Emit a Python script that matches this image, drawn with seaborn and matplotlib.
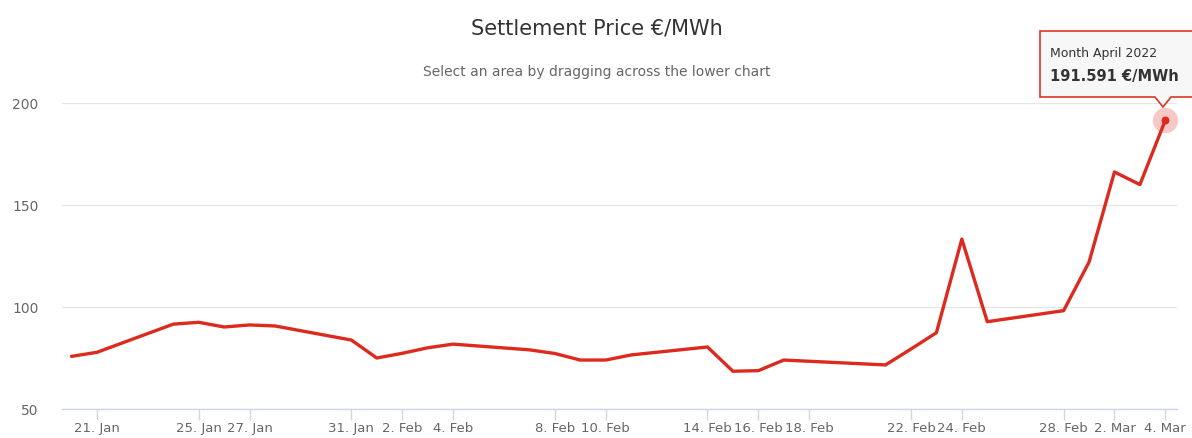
import pandas as pd
import numpy as np
import matplotlib
matplotlib.use("Agg")
import matplotlib.pyplot as plt
import matplotlib.dates as mdates
from matplotlib.patches import Polygon
import seaborn as sns

# trading days and settlement prices
dates = ["2022-01-20", "2022-01-21", "2022-01-24", "2022-01-25", "2022-01-26",
         "2022-01-27", "2022-01-28", "2022-01-31", "2022-02-01", "2022-02-02",
         "2022-02-03", "2022-02-04", "2022-02-07", "2022-02-08", "2022-02-09",
         "2022-02-10", "2022-02-11", "2022-02-14", "2022-02-15", "2022-02-16",
         "2022-02-17", "2022-02-18", "2022-02-21", "2022-02-22", "2022-02-23",
         "2022-02-24", "2022-02-25", "2022-02-28", "2022-03-01", "2022-03-02",
         "2022-03-03", "2022-03-04"]
prices = [75.8, 77.8, 91.6, 92.5, 90.2, 91.2, 90.7, 83.8, 75.0, 77.3,
          80.0, 81.8, 79.0, 77.2, 74.0, 74.0, 76.5, 80.4, 68.5, 68.8,
          74.0, 73.4, 71.6, 79.4, 87.4, 133.3, 92.8, 98.2, 122.0, 166.2,
          160.0, 191.591]
tick_dates = ["2022-01-21", "2022-01-25", "2022-01-27", "2022-01-31", "2022-02-02",
              "2022-02-04", "2022-02-08", "2022-02-10", "2022-02-14", "2022-02-16",
              "2022-02-18", "2022-02-22", "2022-02-24", "2022-02-28", "2022-03-02",
              "2022-03-04"]
tick_labels = ["21. Jan", "25. Jan", "27. Jan", "31. Jan", "2. Feb", "4. Feb",
               "8. Feb", "10. Feb", "14. Feb", "16. Feb", "18. Feb", "22. Feb",
               "24. Feb", "28. Feb", "2. Mar", "4. Mar"]
y_ticks = [50, 100, 150, 200]

df = pd.DataFrame({"Date": pd.to_datetime(dates), "Price": prices})

sns.set_style("white")
plt.rcParams["font.family"] = ["DejaVu Sans"]

W, H = 1192, 439
fig = plt.figure(figsize=(W / 100, H / 100), dpi=100)
ax = fig.add_axes([62 / W, 1 - 410 / H, (1177 - 62) / W, (410 - 104) / H])

red = "#dc2a1e"
sns.lineplot(data=df, x="Date", y="Price", ax=ax, color=red, linewidth=2.4,
             clip_on=False, zorder=3)

# hovered point with halo
last = df.iloc[-1]
ax.scatter([last["Date"]], [last["Price"]], s=330, color=red, alpha=0.25,
           linewidths=0, clip_on=False, zorder=4)
ax.scatter([last["Date"]], [last["Price"]], s=22, color=red, clip_on=False, zorder=5)

ax.set_xlim(pd.Timestamp("2022-01-19 15:00"), pd.Timestamp("2022-03-04 11:00"))
ax.set_ylim(50, 200)
ax.set_yticks(y_ticks)
ax.set_xticks(pd.to_datetime(tick_dates))
ax.set_xticklabels(tick_labels)
ax.set_xlabel("")
ax.set_ylabel("")

ax.grid(axis="y", color="#e6e6e6", linewidth=1)
ax.set_axisbelow(True)
for s in ["top", "right", "left"]:
    ax.spines[s].set_visible(False)
ax.spines["bottom"].set_color("#ccd6eb")
ax.spines["bottom"].set_linewidth(1)
ax.tick_params(axis="x", length=8, width=1, color="#ccd6eb", colors="#666666",
               labelsize=9.5, pad=1, bottom=True)
ax.tick_params(axis="y", length=0, colors="#666666", labelsize=10, pad=17)
for lab in ax.get_xticklabels():
    lab.set_color("#666666")

fig.text(597 / W, 1 - 28 / H, "Settlement Price €/MWh", ha="center", va="center",
         fontsize=15, color="#333333")
fig.text(597 / W, 1 - 72 / H, "Select an area by dragging across the lower chart",
         ha="center", va="center", fontsize=10, color="#666666")

# tooltip
def fp(x, y):
    return (x / W, 1 - y / H)

box = [fp(1040, 32), fp(1195, 32), fp(1195, 98), fp(1171, 98), fp(1163, 108),
       fp(1155, 98), fp(1040, 98)]
fig.patches.append(Polygon(box, closed=True, transform=fig.transFigure,
                           facecolor="#f7f7f7", edgecolor=red, linewidth=1.2,
                           alpha=0.95, zorder=10))
fig.text(1050 / W, 1 - 54 / H, "Month April 2022", ha="left", va="center",
         fontsize=9, color="#333333", zorder=11)
fig.text(1050 / W, 1 - 76 / H, "191.591 €/MWh", ha="left", va="center",
         fontsize=10.5, fontweight="bold", color="#333333", zorder=11)

fig.savefig("out.png", dpi=100)
